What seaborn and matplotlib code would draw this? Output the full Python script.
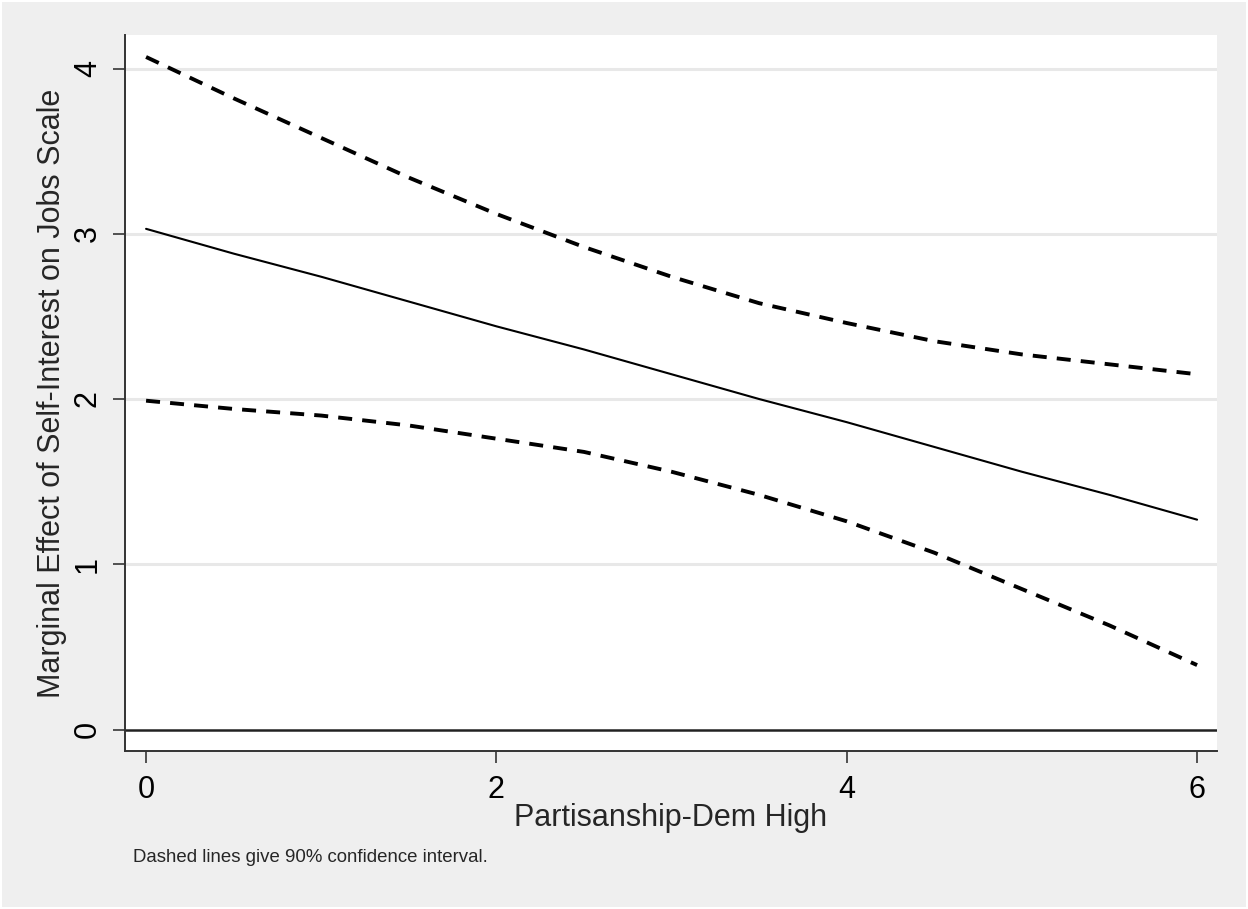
import numpy as np
import pandas as pd
import matplotlib
matplotlib.use("Agg")
import matplotlib.pyplot as plt
from matplotlib.patches import Rectangle
import seaborn as sns

# values
partisanship = [0, 0.5, 1, 1.5, 2, 2.5, 3, 3.5, 4, 4.5, 5, 5.5, 6]
marginal_effect = [3.03, 2.88, 2.74, 2.59, 2.44, 2.30, 2.15, 2.00, 1.86, 1.71, 1.56, 1.42, 1.27]
upper_ci = [4.07, 3.82, 3.58, 3.34, 3.12, 2.92, 2.74, 2.58, 2.46, 2.35, 2.27, 2.21, 2.15]
lower_ci = [1.99, 1.94, 1.90, 1.84, 1.76, 1.68, 1.56, 1.42, 1.26, 1.07, 0.85, 0.63, 0.39]

x_ticks = [0, 2, 4, 6]
y_ticks = [0, 1, 2, 3, 4]

df = pd.DataFrame({
    'party': partisanship,
    'effect': marginal_effect,
    'upper': upper_ci,
    'lower': lower_ci,
})

sns.set_style("white")
plt.rcParams['font.family'] = ['Liberation Sans', 'DejaVu Sans']

fig = plt.figure(figsize=(12.48, 9.09), dpi=100, facecolor='white')
# stata-ish grey background with a thin white edge
fig.patches.append(Rectangle((0.0016, 0.0022), 0.9968, 0.9956, transform=fig.transFigure,
                             facecolor='#efefef', edgecolor='none', zorder=-10))
ax = fig.add_axes([0.1002, 0.1738, 0.875, 0.7877])
ax.set_facecolor('white')

for yv in y_ticks[1:]:
    ax.axhline(yv, color='#e8e8e8', lw=2.2, zorder=0)
ax.axhline(0, color='#222222', lw=1.8, zorder=1)

sns.lineplot(data=df, x='party', y='effect', ax=ax, color='black', lw=1.5, zorder=3)
sns.lineplot(data=df, x='party', y='upper', ax=ax, color='black', lw=2.8,
             dashes=False, zorder=3).lines[-1].set_dashes([3.6, 2.6])
sns.lineplot(data=df, x='party', y='lower', ax=ax, color='black', lw=2.8,
             dashes=False, zorder=3).lines[-1].set_dashes([3.6, 2.6])

ax.set_xlim(-0.12, 6.114)
ax.set_ylim(-0.13, 4.203)
ax.set_xticks(x_ticks)
ax.set_yticks(y_ticks)
ax.set_xticklabels([str(t) for t in x_ticks])
ax.set_yticklabels([str(t) for t in y_ticks], rotation=90, va='center')

for side in ['top', 'right']:
    ax.spines[side].set_visible(False)
for side in ['left', 'bottom']:
    ax.spines[side].set_color('#333333')
    ax.spines[side].set_linewidth(1.4)

ax.tick_params(axis='both', which='major', direction='out', length=8.5, width=1.3,
               color='#444444', labelsize=22, labelcolor='black')
ax.tick_params(axis='x', bottom=True, pad=8.5)
ax.tick_params(axis='y', left=True, pad=7.5)

ax.set_xlabel('Partisanship-Dem High', fontsize=22, labelpad=-1)
ax.set_ylabel('Marginal Effect of Self-Interest on Jobs Scale', fontsize=22, labelpad=4.5)

fig.text(133 / 1248, 1 - 858 / 909, 'Dashed lines give 90% confidence interval.',
         fontsize=13.4, va='center', ha='left')

fig.savefig('out.png', dpi=100, facecolor=fig.get_facecolor())
